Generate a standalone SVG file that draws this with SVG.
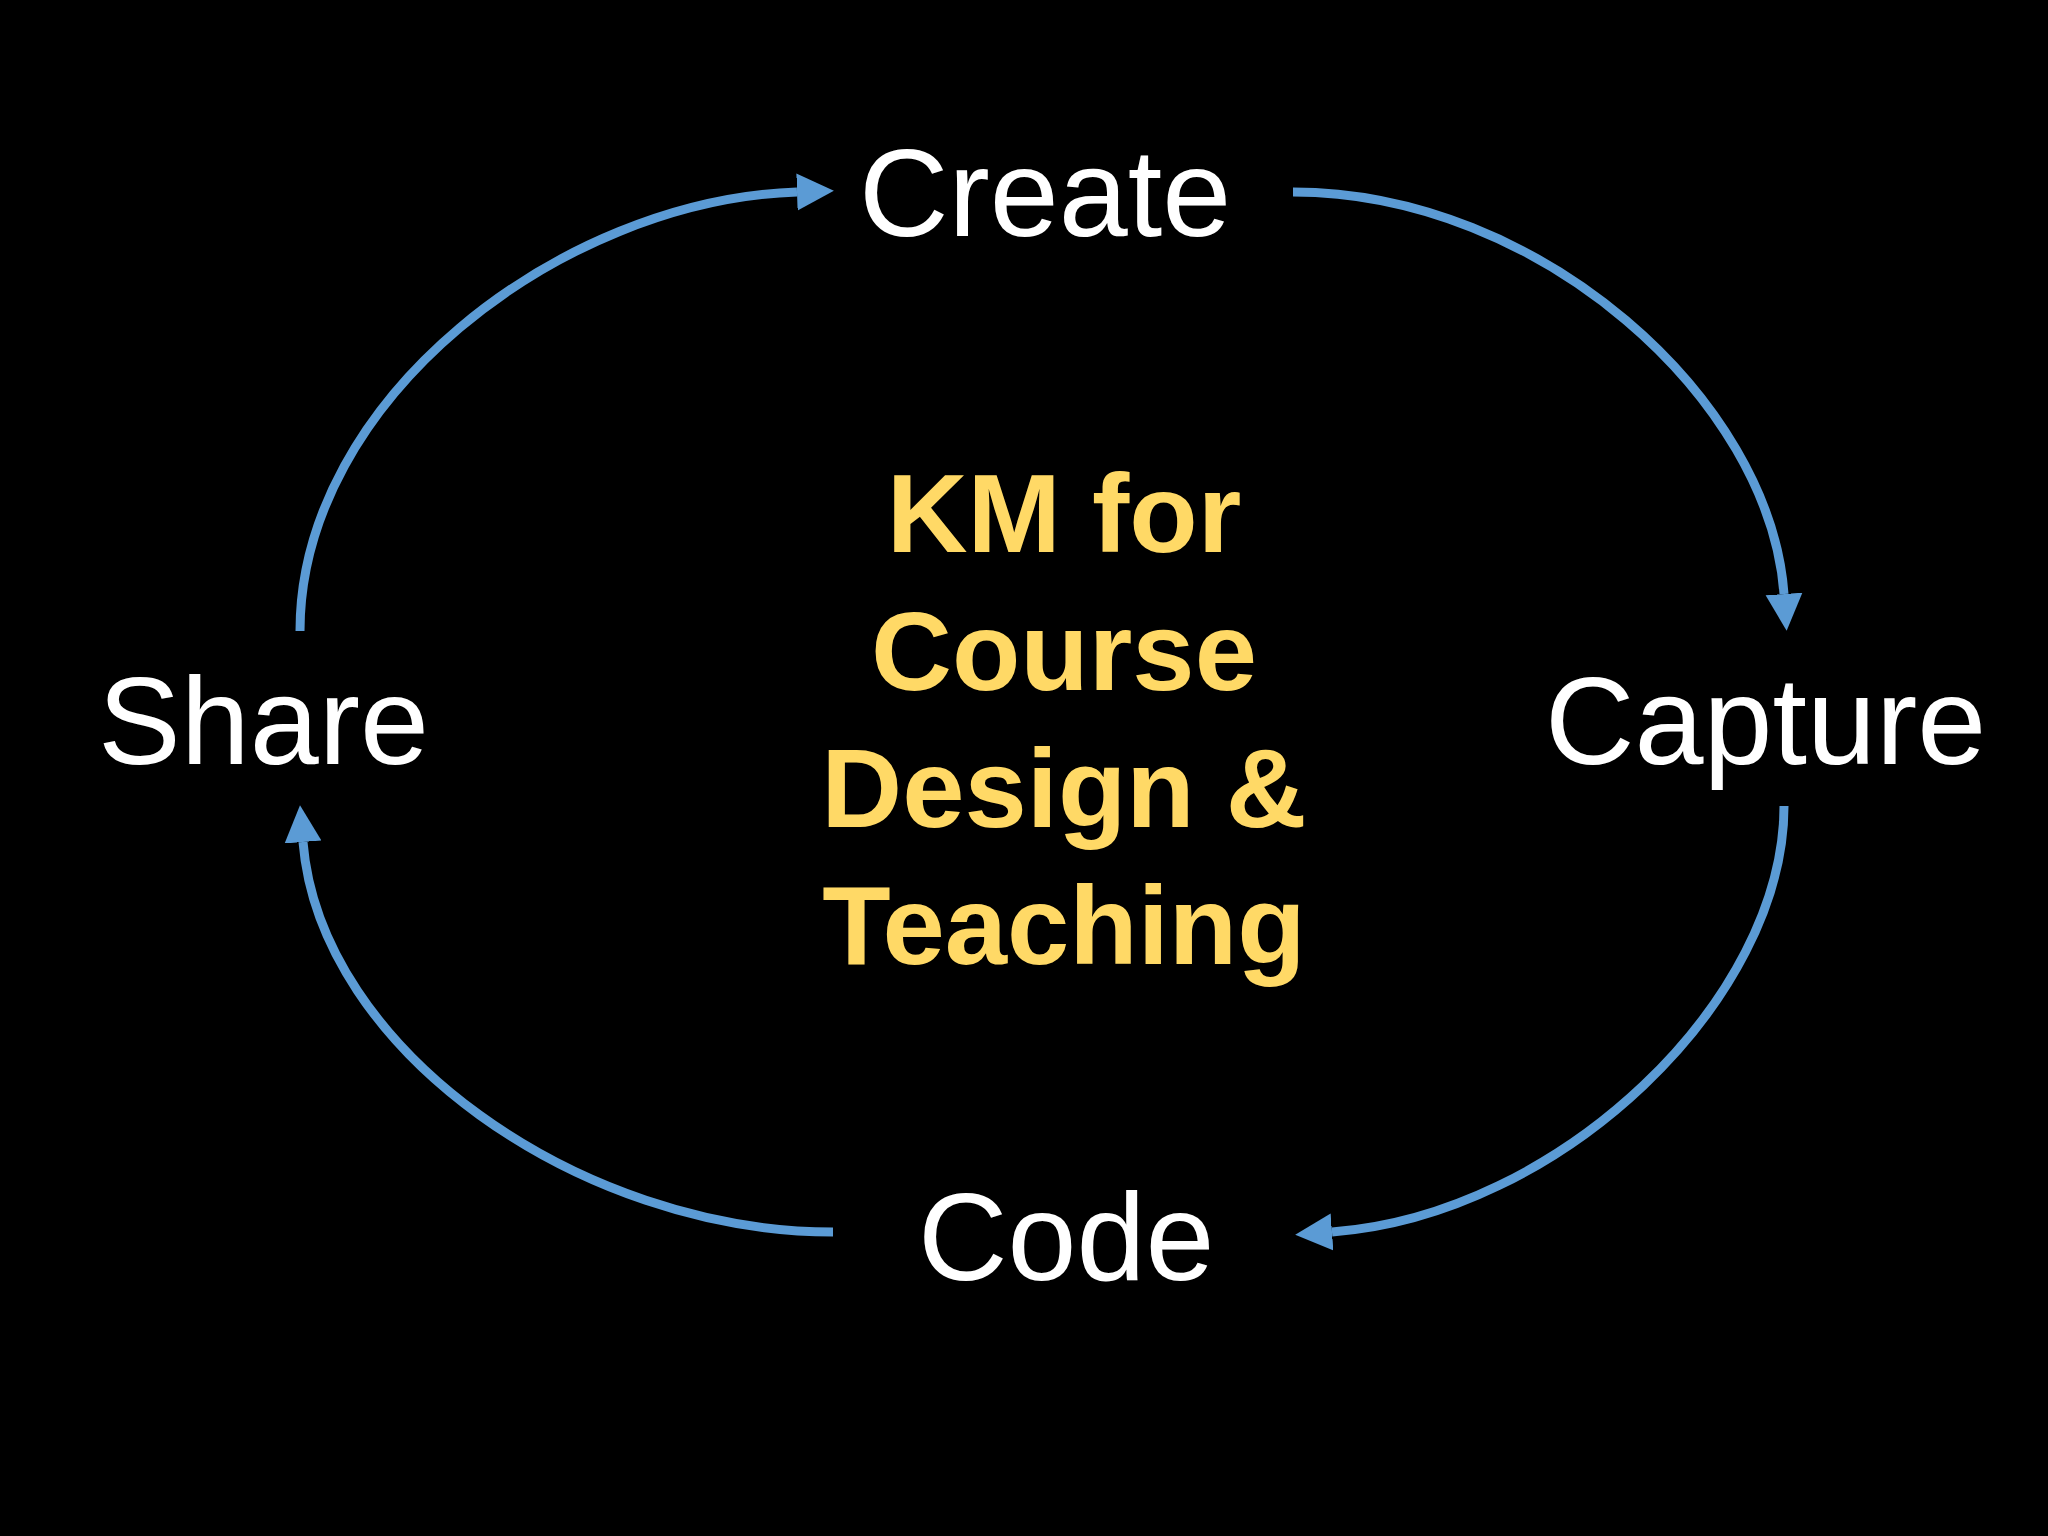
<svg xmlns="http://www.w3.org/2000/svg" width="2048" height="1536" viewBox="0 0 2048 1536">
<style>
.lbl{font-family:"Liberation Sans",Arial,sans-serif;font-size:124px;fill:#fff}
.ctr{font-family:"Liberation Sans",Arial,sans-serif;font-size:112px;font-weight:bold;fill:#FFD966;text-anchor:middle}
.arc{fill:none;stroke:#5B9BD5;stroke-width:9}
</style>
<defs>
<marker id="ah" viewBox="0 0 10 10" refX="0" refY="5" markerWidth="4.1" markerHeight="4.3" orient="auto" markerUnits="strokeWidth">
<path d="M0,0 L10,5 L0,10 Z" fill="#5B9BD5"/>
</marker>
</defs>
<rect width="2048" height="1536" fill="#000"/>
<g id="connectors">
<path class="arc" marker-end="url(#ah)" d="M300,631 C300,400 560,200 797,192"/>
<path class="arc" marker-end="url(#ah)" d="M1293,192 C1540,192 1770,400 1784,594"/>
<path class="arc" marker-end="url(#ah)" d="M1784,806 C1784,1000 1560,1215 1332,1232"/>
<path class="arc" marker-end="url(#ah)" d="M833,1232 C580,1232 320,1050 303,842"/>
</g>
<g id="create"><text class="lbl" x="859" y="236">Create</text></g>
<g id="capture"><text class="lbl" x="1545" y="764">Capture</text></g>
<g id="code"><text class="lbl" x="918" y="1280">Code</text></g>
<g id="share"><text class="lbl" x="98" y="764">Share</text></g>
<g id="center">
<text class="ctr" x="1064" y="552">KM for</text>
<text class="ctr" x="1064" y="690">Course</text>
<text class="ctr" x="1064" y="827">Design &amp;</text>
<text class="ctr" x="1064" y="964">Teaching</text>
</g>
</svg>
